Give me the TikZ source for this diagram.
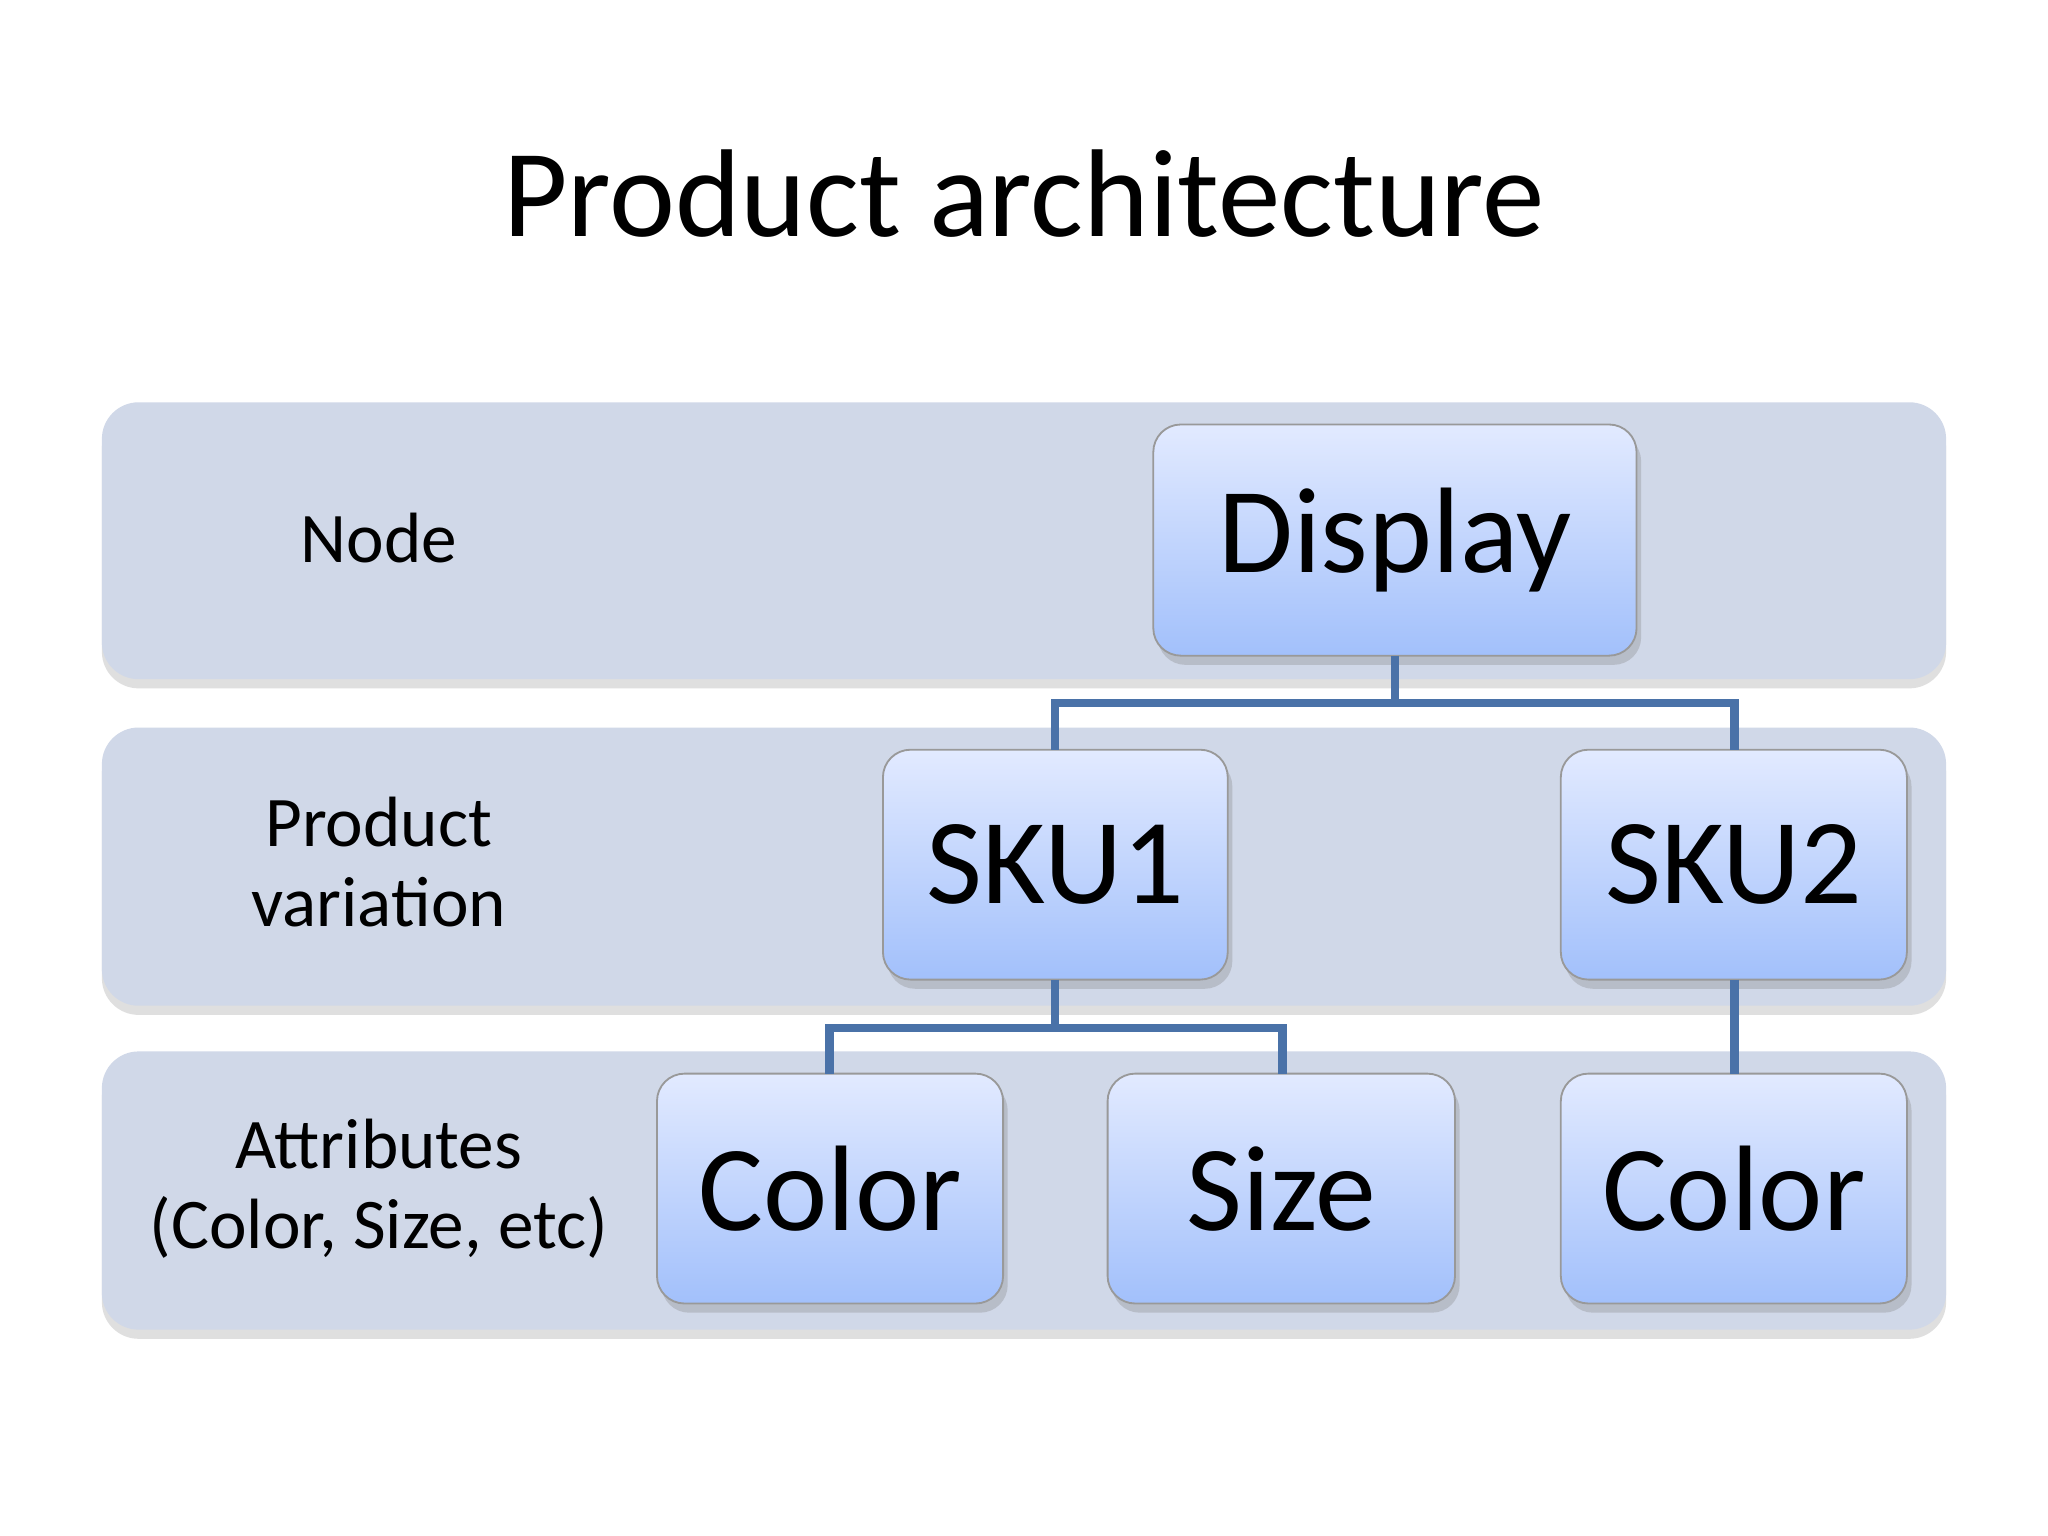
\documentclass[tikz,border=0pt]{standalone}
\usepackage{fontspec}
\setmainfont{Carlito}
\usetikzlibrary{shadows}
\begin{document}
\begin{tikzpicture}[x=0.01cm,y=-0.01cm,
  band/.style={fill=bandc,rounded corners=8pt,drop shadow={shadow xshift=0pt,shadow yshift=-2pt,opacity=0.25}},
  boxn/.style={draw=gray!80,rounded corners=6pt,top color=boxtop,bottom color=boxbot,
    font=\fontsize{26.5}{30}\selectfont,drop shadow={shadow xshift=1pt,shadow yshift=-2pt,opacity=0.3}},
  lab/.style={font=\fontsize{15.5}{17.5}\selectfont,align=center},
  conn/.style={draw=connc,line width=1.8pt}]
\definecolor{bandc}{HTML}{D0D8E8}
\definecolor{boxtop}{HTML}{E2EAFF}
\definecolor{boxbot}{HTML}{A2C0FB}
\definecolor{connc}{HTML}{4A72A8}
\useasboundingbox (0,0) rectangle (1568,1176);
\fill[white] (0,0) rectangle (1568,1176);
\node (title) at (784,148) {\fontsize{27.2}{32}\selectfont Product architecture};
\path[band] (78,308) rectangle (1490,520);
\path[band] (78,557) rectangle (1490,770);
\path[band] (78,805) rectangle (1490,1018);
\node[lab] (l1) at (290,412) {Node};
\node[lab] (l2) at (290,660) {Product\\variation};
\node[lab] (l3) at (290,910) {Attributes\\(Color, Size, etc)};
\path[boxn] (883,325) rectangle (1253,502);
\node (disp) at (1068,413.5) {\fontsize{26.5}{30}\selectfont Display};
\path[boxn] (676,574) rectangle (940,750);
\node (sku1) at (808,662) {\fontsize{26.5}{30}\selectfont SKU1};
\path[boxn] (1195,574) rectangle (1460,750);
\node (sku2) at (1327.5,662) {\fontsize{26.5}{30}\selectfont SKU2};
\path[boxn] (503,822) rectangle (768,998);
\node (c1) at (635.5,910) {\fontsize{26.5}{30}\selectfont Color};
\path[boxn] (848,822) rectangle (1114,998);
\node (sz) at (981,910) {\fontsize{26.5}{30}\selectfont Size};
\path[boxn] (1195,822) rectangle (1460,998);
\node (c2) at (1327.5,910) {\fontsize{26.5}{30}\selectfont Color};
\coordinate (dB) at (1068,502);
\coordinate (s1T) at (808,574);
\coordinate (s2T) at (1328,574);
\coordinate (s1B) at (808,750);
\coordinate (s2B) at (1328,750);
\coordinate (c1T) at (635,822);
\coordinate (szT) at (982,822);
\coordinate (c2T) at (1328,822);
\draw[conn] (dB) -- (1068,538) -| (s1T);
\draw[conn] (1068,538) -| (s2T);
\draw[conn] (s1B) -- (808,787) -| (c1T);
\draw[conn] (808,787) -| (szT);
\draw[conn] (s2B) -- (c2T);
\end{tikzpicture}
\end{document}
